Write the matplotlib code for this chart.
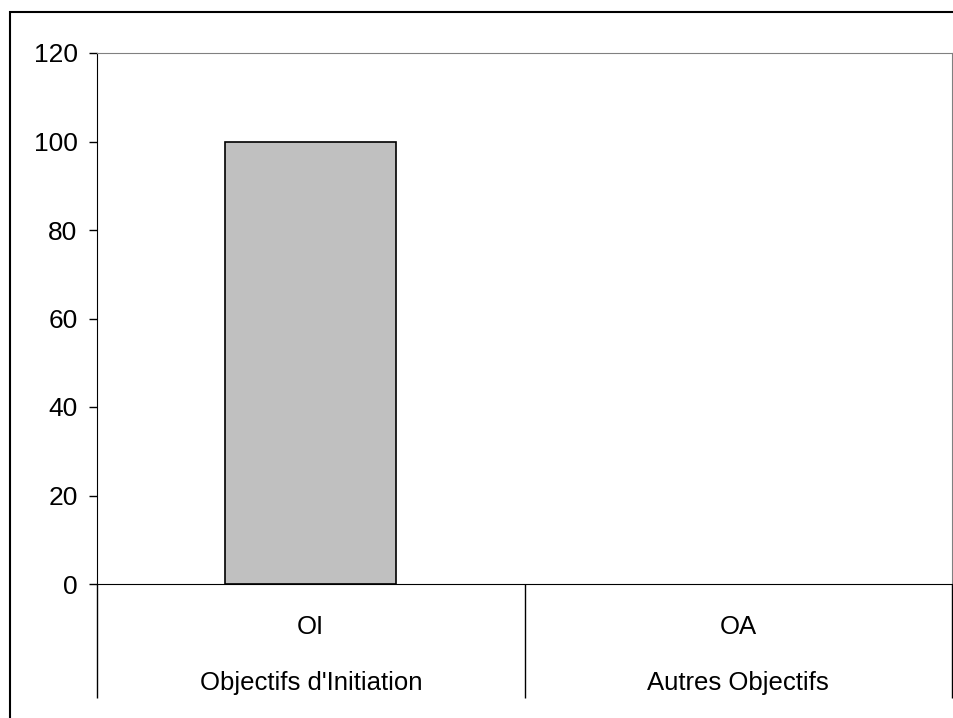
import numpy as np
import matplotlib
matplotlib.use('Agg')
from matplotlib import pyplot as plt
from matplotlib.patches import Rectangle

plt.rcParams['font.family'] = ['Liberation Sans', 'DejaVu Sans']

# Données
codes = ['OI', 'OA']
libelles = ["Objectifs d'Initiation", 'Autres Objectifs']
valeurs = [100, 0]
yticks = [0, 20, 40, 60, 80, 100, 120]

fig = plt.figure(figsize=(9.54, 7.18), dpi=100)
ax = fig.add_axes([97/954, 1 - 584/718, 855/954, 531/718])

x = np.arange(len(codes))
bords = ['black' if v > 0 else 'none' for v in valeurs]
ax.bar(x, valeurs, width=0.4, color='#c0c0c0', edgecolor=bords, linewidth=1.2)

ax.set_xlim(-0.5, len(codes) - 0.5)
ax.set_ylim(0, 120)
ax.set_yticks(yticks)
ax.tick_params(axis='y', labelsize=19, length=6, width=1, direction='out', pad=8)

# séparateurs des catégories sous l'axe
ax.set_xticks(x)
ax.set_xticklabels([])
ax.tick_params(axis='x', which='major', length=0)
ax.set_xticks(np.arange(len(codes) + 1) - 0.5, minor=True)
ax.tick_params(axis='x', which='minor', length=82, width=1, direction='out', color='black')

for xi, c, l in zip(x, codes, libelles):
    ax.annotate(c, xy=(xi, 0), xycoords=('data', 'axes fraction'), xytext=(0, -43),
                textcoords='offset pixels', ha='center', va='center', fontsize=18.5)
    ax.annotate(l, xy=(xi, 0), xycoords=('data', 'axes fraction'), xytext=(0, -99),
                textcoords='offset pixels', ha='center', va='center', fontsize=18.5)

ax.spines['top'].set_color('#808080')
ax.spines['right'].set_color('#808080')
ax.spines['left'].set_color('black')
ax.spines['bottom'].set_color('black')

# cadre extérieur
fig.patches.append(Rectangle((10/954, -0.1), 1.2, 1.1 - 12/718,
                             transform=fig.transFigure, fill=False,
                             edgecolor='black', linewidth=1.5))

fig.savefig('out.png', dpi=100)
